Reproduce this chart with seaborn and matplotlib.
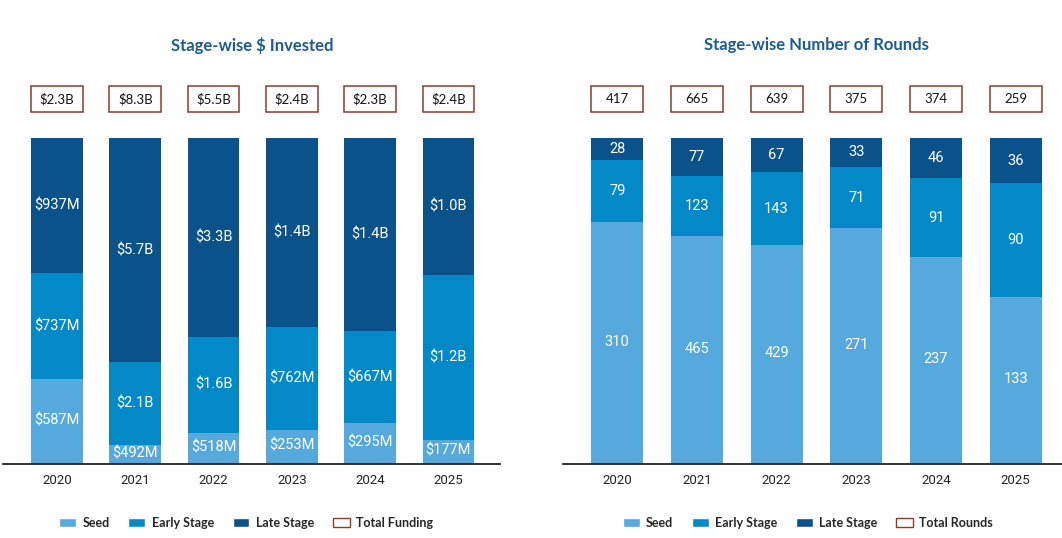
import numpy as np
import seaborn as sns
import matplotlib.pyplot as plt
from matplotlib.patches import Patch, Rectangle

# --- Data ---
years = ["2020", "2021", "2022", "2023", "2024", "2025"]

# $ invested (millions)
inv_seed = [587, 492, 518, 253, 295, 177]
inv_early = [737, 2100, 1600, 762, 667, 1200]
inv_late = [937, 5700, 3300, 1400, 1400, 1000]
inv_seed_lbl = ["$587M", "$492M", "$518M", "$253M", "$295M", "$177M"]
inv_early_lbl = ["$737M", "$2.1B", "$1.6B", "$762M", "$667M", "$1.2B"]
inv_late_lbl = ["$937M", "$5.7B", "$3.3B", "$1.4B", "$1.4B", "$1.0B"]
inv_total_lbl = ["$2.3B", "$8.3B", "$5.5B", "$2.4B", "$2.3B", "$2.4B"]

# number of rounds
rnd_seed = [310, 465, 429, 271, 237, 133]
rnd_early = [79, 123, 143, 71, 91, 90]
rnd_late = [28, 77, 67, 33, 46, 36]
rnd_total = [417, 665, 639, 375, 374, 259]

C_SEED = "#56A9DD"
C_EARLY = "#0489C8"
C_LATE = "#0B528A"
C_BOX = "#8E3B2C"
C_TITLE = "#1E5B8E"

sns.set_style("white")
plt.rcParams["font.family"] = ["Roboto", "DejaVu Sans"]

fig = plt.figure(figsize=(10.62, 5.38), dpi=100)
W, H = 1062, 538


def panel(x0, x1, xlim, seed, early, late, seed_lbl, early_lbl, late_lbl,
          total_lbl, title, total_name, width, title_x, leg_x):
    ax = fig.add_axes([x0 / W, (H - 464) / H, (x1 - x0) / W, (464 - 138) / H])
    seed = np.array(seed, float)
    early = np.array(early, float)
    late = np.array(late, float)
    tot = seed + early + late
    s = seed / tot
    e = early / tot
    l = late / tot
    # stacked via overlapping cumulative bars
    sns.barplot(x=years, y=s + e + l, color=C_LATE, width=width, saturation=1,
                ax=ax, edgecolor="none")
    sns.barplot(x=years, y=s + e, color=C_EARLY, width=width, saturation=1,
                ax=ax, edgecolor="none")
    sns.barplot(x=years, y=s, color=C_SEED, width=width, saturation=1,
                ax=ax, edgecolor="none")
    for i in range(len(years)):
        ax.text(i, s[i] / 2 + 0.004, seed_lbl[i], ha="center", va="center",
                color="white", fontsize=10.5)
        ax.text(i, s[i] + e[i] / 2, early_lbl[i], ha="center", va="center",
                color="white", fontsize=10.5)
        ax.text(i, s[i] + e[i] + l[i] / 2, late_lbl[i], ha="center",
                va="center", color="white", fontsize=10.5)
        ax.add_patch(Rectangle((i - width / 2, 1.08), width, 0.08,
                               facecolor="white", edgecolor=C_BOX, lw=1.1,
                               clip_on=False))
        ax.text(i, 1.12, total_lbl[i], ha="center", va="center",
                fontsize=9.5, color="#111111", family=["Lato", "DejaVu Sans"])
    ax.set_xlim(*xlim)
    ax.set_ylim(0, 1)
    ax.set_yticks([])
    ax.set_ylabel("")
    ax.set_xlabel("")
    sns.despine(ax=ax, left=True)
    ax.spines["bottom"].set_color("#222222")
    ax.spines["bottom"].set_linewidth(1.3)
    ax.tick_params(axis="x", length=0, pad=7, labelsize=9.5, labelcolor="#222222")
    fig.text(title_x / W, 1 - 45 / H, title, ha="center", va="center",
             fontsize=12, fontweight="bold", color=C_TITLE,
             family=["Lato", "DejaVu Sans"])
    handles = [Patch(facecolor=C_SEED, label="Seed"),
               Patch(facecolor=C_EARLY, label="Early Stage"),
               Patch(facecolor=C_LATE, label="Late Stage"),
               Patch(facecolor="white", edgecolor=C_BOX, label=total_name)]
    fig.legend(handles=handles, loc="center", bbox_to_anchor=(leg_x / W, 1 - 523 / H),
               ncol=4, frameon=False, handlelength=1.35, handleheight=0.8,
               columnspacing=1.5, handletextpad=0.5,
               prop={"family": ["Lato", "DejaVu Sans"], "weight": "bold", "size": 9})
    return ax


panel(3, 500, (-0.69, 5.66), inv_seed, inv_early, inv_late,
      inv_seed_lbl, inv_early_lbl, inv_late_lbl, inv_total_lbl,
      "Stage-wise $ Invested", "Total Funding", 0.66, 252, 246)

panel(563, 1062, (-0.68, 5.58), rnd_seed, rnd_early, rnd_late,
      [str(v) for v in rnd_seed], [str(v) for v in rnd_early],
      [str(v) for v in rnd_late], [str(v) for v in rnd_total],
      "Stage-wise Number of Rounds", "Total Rounds", 0.65, 816, 808)

fig.savefig("out.png", dpi=100)
